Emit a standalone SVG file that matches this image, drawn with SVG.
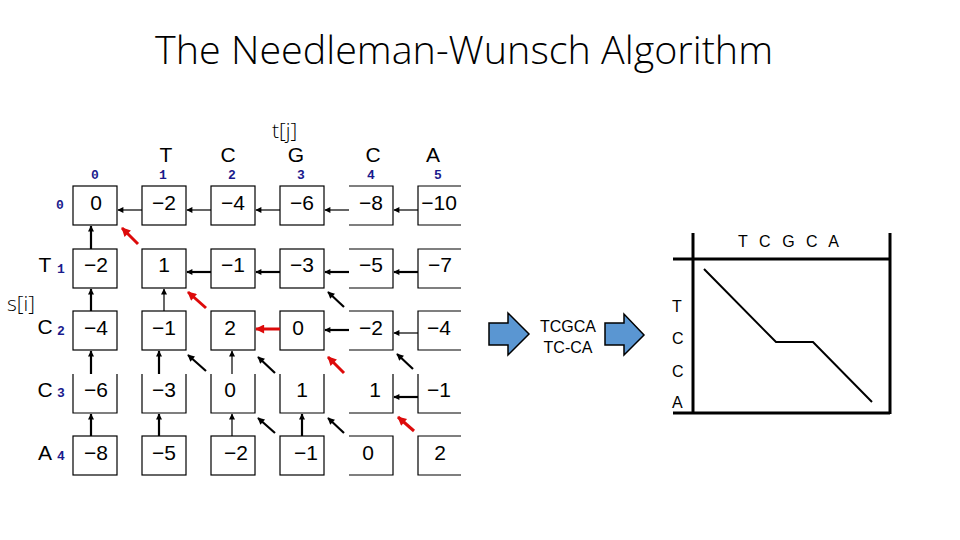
<svg xmlns="http://www.w3.org/2000/svg" width="960" height="540" viewBox="0 0 960 540">
<style>
.title{font-family:"Open Sans","Liberation Sans",sans-serif;font-weight:300;font-size:38px;fill:#000}
.lab{font-family:"Open Sans","Liberation Sans",sans-serif;font-weight:300;font-size:21px;fill:#000}
.let{font-family:"Liberation Sans",Arial,sans-serif;font-size:21px;fill:#000;text-anchor:middle}
.idx{font-family:"Liberation Mono","DejaVu Sans Mono",monospace;font-weight:bold;font-size:13px;fill:#1a1a8c;text-anchor:middle}
.val{font-family:"Liberation Sans",Arial,sans-serif;font-size:21px;fill:#000;text-anchor:middle}
.sm{font-family:"Liberation Sans",Arial,sans-serif;font-size:16px;fill:#000}
.box{fill:none;stroke:#000;stroke-width:1.2}
.a1{stroke:#000;stroke-width:1.2;fill:none}
.a2{stroke:#000;stroke-width:2.2;fill:none}
.ar{stroke:#dd0a0a;stroke-width:3;fill:none}
.blk{fill:#5a96d2;stroke:#000;stroke-width:1.5}
.ax{stroke:#000;stroke-width:3;fill:none}
</style>
<defs>
<marker id="hb" viewBox="0 0 10 10" refX="9" refY="5" markerWidth="7" markerHeight="6" markerUnits="userSpaceOnUse" orient="auto"><path d="M0,0 L10,5 L0,10 Z" fill="#000"/></marker>
<marker id="hd" viewBox="0 0 10 10" refX="9" refY="5" markerWidth="9" markerHeight="7" markerUnits="userSpaceOnUse" orient="auto"><path d="M0,0 L10,5 L0,10 Z" fill="#000"/></marker>
<marker id="hr" viewBox="0 0 10 10" refX="9" refY="5" markerWidth="11" markerHeight="9" markerUnits="userSpaceOnUse" orient="auto"><path d="M0,0 L10,5 L0,10 Z" fill="#dd0a0a"/></marker>
</defs>

<text class="title" x="155" y="64" textLength="618" lengthAdjust="spacingAndGlyphs">The Needleman-Wunsch Algorithm</text>

<g id="headers">
<text class="lab" x="272" y="138" font-size="20">t[j]</text>
<text class="lab" x="7" y="311">s[i]</text>
<text class="let" x="166" y="162">T</text>
<text class="let" x="228" y="162">C</text>
<text class="let" x="296" y="162">G</text>
<text class="let" x="373" y="162">C</text>
<text class="let" x="433" y="162">A</text>
<text class="idx" x="95" y="179">0</text>
<text class="idx" x="163" y="179">1</text>
<text class="idx" x="232" y="179">2</text>
<text class="idx" x="301" y="179">3</text>
<text class="idx" x="371" y="179">4</text>
<text class="idx" x="438" y="179">5</text>
<text class="idx" x="60" y="209">0</text>
<text class="let" x="45" y="272">T</text><text class="idx" x="61" y="273">1</text>
<text class="let" x="45" y="334">C</text><text class="idx" x="61" y="335">2</text>
<text class="let" x="45" y="397">C</text><text class="idx" x="61" y="397">3</text>
<text class="let" x="45" y="460">A</text><text class="idx" x="61" y="460">4</text>
</g>

<g id="cells">
<g id="c00"><rect class="box" x="73" y="186" width="44" height="39"/><text class="val" x="96" y="210">0</text></g>
<g id="c01"><rect class="box" x="142" y="186" width="44" height="39"/><text class="val" x="164" y="210">−2</text></g>
<g id="c02"><rect class="box" x="211" y="186" width="44" height="39"/><text class="val" x="233" y="210">−4</text></g>
<g id="c03"><rect class="box" x="280" y="186" width="44" height="39"/><text class="val" x="302" y="210">−6</text></g>
<g id="c04"><path class="box" d="M349,186 H393 V225 H349"/><text class="val" x="371" y="210">−8</text></g>
<g id="c05"><path class="box" d="M461,186 H418 V225 H461"/><text class="val" x="439" y="210">−10</text></g>
<g id="c10"><rect class="box" x="73" y="249" width="44" height="39"/><text class="val" x="96" y="272">−2</text></g>
<g id="c11"><rect class="box" x="142" y="249" width="44" height="39"/><text class="val" x="164" y="272">1</text></g>
<g id="c12"><rect class="box" x="211" y="249" width="44" height="39"/><text class="val" x="233" y="272">−1</text></g>
<g id="c13"><rect class="box" x="280" y="249" width="44" height="39"/><text class="val" x="302" y="272">−3</text></g>
<g id="c14"><path class="box" d="M349,249 H393 V288 H349"/><text class="val" x="371" y="272">−5</text></g>
<g id="c15"><path class="box" d="M461,249 H418 V288 H461"/><text class="val" x="440" y="272">−7</text></g>
<g id="c20"><rect class="box" x="73" y="311" width="44" height="39"/><text class="val" x="96" y="335">−4</text></g>
<g id="c21"><rect class="box" x="142" y="311" width="44" height="39"/><text class="val" x="164" y="335">−1</text></g>
<g id="c22"><rect class="box" x="211" y="311" width="44" height="39"/><text class="val" x="230" y="335">2</text></g>
<g id="c23"><rect class="box" x="280" y="311" width="44" height="39"/><text class="val" x="298" y="335">0</text></g>
<g id="c24"><path class="box" d="M349,311 H393 V350 H349"/><text class="val" x="371" y="335">−2</text></g>
<g id="c25"><path class="box" d="M461,311 H418 V350 H461"/><text class="val" x="439" y="335">−4</text></g>
<g id="c30"><path class="box" d="M73,374 V413 H117 V374"/><text class="val" x="96" y="397">−6</text></g>
<g id="c31"><path class="box" d="M142,374 V413 H186 V374"/><text class="val" x="164" y="397">−3</text></g>
<g id="c32"><path class="box" d="M211,374 V413 H255 V374"/><text class="val" x="230" y="397">0</text></g>
<g id="c33"><path class="box" d="M280,374 V413 H324 V374"/><text class="val" x="302" y="397">1</text></g>
<g id="c34"><path class="box" d="M349,413 H393 V374"/><text class="val" x="375" y="397">1</text></g>
<g id="c35"><path class="box" d="M418,374 V413 H461"/><text class="val" x="439" y="397">−1</text></g>
<g id="c40"><rect class="box" x="73" y="436" width="44" height="39"/><text class="val" x="96" y="460">−8</text></g>
<g id="c41"><rect class="box" x="142" y="436" width="44" height="39"/><text class="val" x="164" y="460">−5</text></g>
<g id="c42"><rect class="box" x="211" y="436" width="44" height="39"/><text class="val" x="236" y="460">−2</text></g>
<g id="c43"><rect class="box" x="280" y="436" width="44" height="39"/><text class="val" x="306" y="460">−1</text></g>
<g id="c44"><path class="box" d="M349,436 H393 V475 H349"/><text class="val" x="368" y="460">0</text></g>
<g id="c45"><path class="box" d="M461,436 H418 V475 H461"/><text class="val" x="440" y="460">2</text></g>
</g>

<g id="connectors">
<line class="a1" x1="142" y1="210" x2="118" y2="210" marker-end="url(#hb)"/>
<line class="a1" x1="211" y1="210" x2="187" y2="210" marker-end="url(#hb)"/>
<line class="a1" x1="280" y1="210" x2="256" y2="210" marker-end="url(#hb)"/>
<line class="a1" x1="349" y1="210" x2="325" y2="210" marker-end="url(#hb)"/>
<line class="a1" x1="418" y1="210" x2="394" y2="210" marker-end="url(#hb)"/>
<line class="a2" x1="211" y1="272" x2="187" y2="272" marker-end="url(#hb)"/>
<line class="a2" x1="280" y1="272" x2="256" y2="272" marker-end="url(#hb)"/>
<line class="a2" x1="349" y1="272" x2="325" y2="272" marker-end="url(#hb)"/>
<line class="a2" x1="418" y1="272" x2="394" y2="272" marker-end="url(#hb)"/>
<line class="ar" x1="280" y1="329" x2="256" y2="329" marker-end="url(#hr)"/>
<line class="a2" x1="349" y1="330" x2="325" y2="330" marker-end="url(#hb)"/>
<line class="a1" x1="418" y1="333" x2="394" y2="333" marker-end="url(#hb)"/>
<line class="a2" x1="418" y1="397" x2="394" y2="397" marker-end="url(#hb)"/>
<line class="a2" x1="91" y1="249" x2="91" y2="226" marker-end="url(#hb)"/>
<line class="a2" x1="91" y1="311" x2="91" y2="289" marker-end="url(#hb)"/>
<line class="a1" x1="164" y1="311" x2="164" y2="289" marker-end="url(#hb)"/>
<line class="a2" x1="91" y1="374" x2="91" y2="351" marker-end="url(#hb)"/>
<line class="a2" x1="159" y1="374" x2="159" y2="351" marker-end="url(#hb)"/>
<line class="a1" x1="232" y1="374" x2="232" y2="351" marker-end="url(#hb)"/>
<line class="a2" x1="91" y1="436" x2="91" y2="414" marker-end="url(#hb)"/>
<line class="a2" x1="159" y1="436" x2="159" y2="414" marker-end="url(#hb)"/>
<line class="a1" x1="232" y1="436" x2="232" y2="414" marker-end="url(#hb)"/>
<line class="a2" x1="302" y1="436" x2="302" y2="414" marker-end="url(#hb)"/>
<line class="ar" x1="138" y1="244" x2="122" y2="228" marker-end="url(#hr)"/>
<line class="ar" x1="206" y1="308" x2="188" y2="292" marker-end="url(#hr)"/>
<line class="a2" x1="344" y1="307" x2="328" y2="292" marker-end="url(#hd)"/>
<line class="a2" x1="206" y1="371" x2="188" y2="355" marker-end="url(#hd)"/>
<line class="a2" x1="275" y1="373" x2="258" y2="357" marker-end="url(#hd)"/>
<line class="ar" x1="344" y1="373" x2="328" y2="357" marker-end="url(#hr)"/>
<line class="a2" x1="413" y1="369" x2="397" y2="354" marker-end="url(#hd)"/>
<line class="a2" x1="275" y1="433" x2="258" y2="418" marker-end="url(#hd)"/>
<line class="a2" x1="344" y1="433" x2="328" y2="418" marker-end="url(#hd)"/>
<line class="ar" x1="414" y1="431" x2="398" y2="417" marker-end="url(#hr)"/>
</g>

<g id="arrow1"><polygon class="blk" points="489,323 508,323 508,313 529,334 508,355 508,345 489,345"/></g>
<g id="alignment">
<text class="sm" x="568" y="332" text-anchor="middle">TCGCA</text>
<text class="sm" x="568" y="353" text-anchor="middle">TC-CA</text>
</g>
<g id="arrow2"><polygon class="blk" points="605,323 624,323 624,314 644,335 624,355 624,345 605,345"/></g>

<g id="plot">
<line class="ax" x1="693" y1="233" x2="693" y2="414"/>
<line class="ax" x1="890" y1="233" x2="890" y2="414"/>
<line class="ax" x1="673" y1="259" x2="890" y2="259"/>
<line class="ax" x1="673" y1="413" x2="890" y2="413"/>
<text class="sm" x="738" y="247" textLength="101" lengthAdjust="spacing">T C G C A</text>
<text class="sm" x="672" y="312">T</text>
<text class="sm" x="672" y="344">C</text>
<text class="sm" x="672" y="377">C</text>
<text class="sm" x="672" y="408">A</text>
<polyline points="704,269 776,342 813,342 872,402" fill="none" stroke="#000" stroke-width="2"/>
</g>
</svg>
